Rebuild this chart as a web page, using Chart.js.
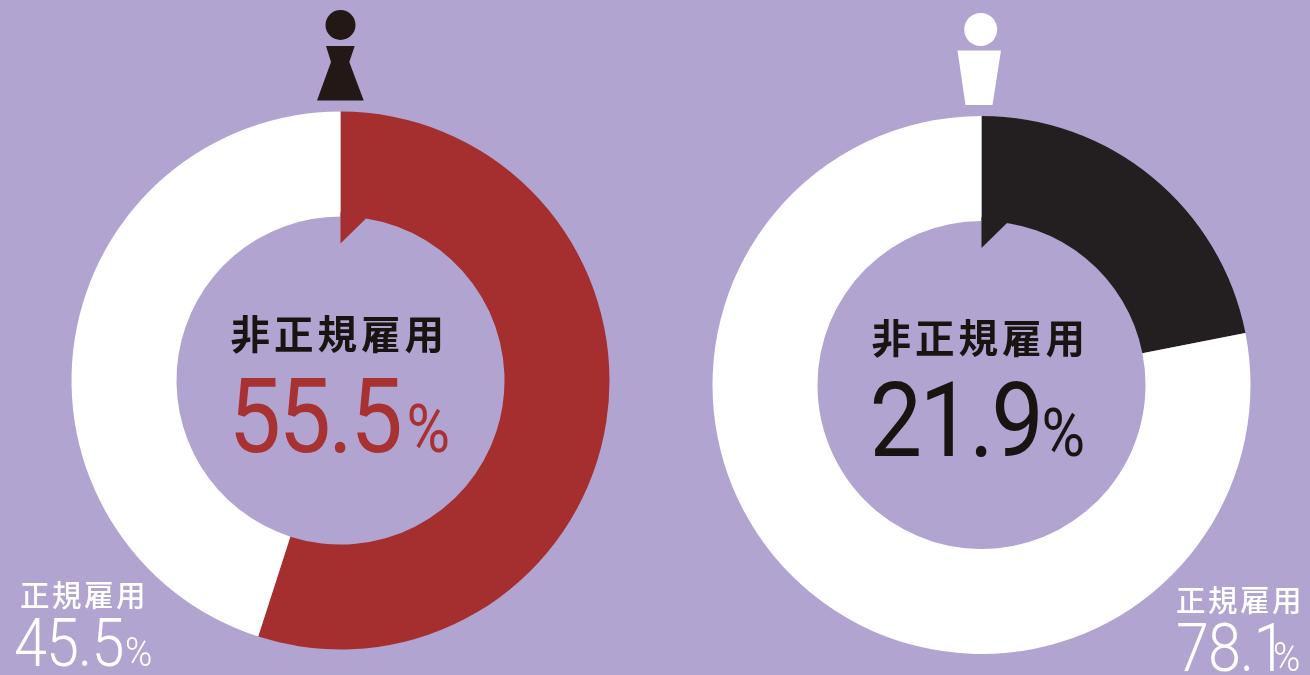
<!DOCTYPE html>
<html><head><meta charset="utf-8">
<script src="https://cdn.jsdelivr.net/npm/chart.js@4"></script>
<style>
html,body{margin:0;padding:0;background:#b1a4d0;width:1310px;height:675px;overflow:hidden}
canvas{position:absolute;top:0}
#c1{left:0}#c2{left:629px}
</style></head><body>
<canvas id="c1" width="681" height="675"></canvas>
<canvas id="c2" width="681" height="675"></canvas>
<script>
const femaleValues = [55.5, 45.5];
const maleValues = [21.9, 78.1];
const categories = ['非正規雇用', '正規雇用'];
const femaleColors = ['#a52f2f', '#ffffff'];
const maleColors = ['#231f20', '#ffffff'];

const KANJI = '"Noto Sans CJK JP"';
const NUM = 'Roboto';

function put(ctx, txt, x, y, font, color, sp, sx) {
  ctx.save();
  ctx.translate(x, y); ctx.scale(sx || 1, 1);
  ctx.font = font; ctx.fillStyle = color; ctx.textAlign = 'left';
  ctx.textBaseline = 'alphabetic'; ctx.letterSpacing = sp || '0px';
  ctx.fillText(txt, 0, 0);
  ctx.restore();
}
function poly(ctx, pts, color) {
  ctx.fillStyle = color; ctx.beginPath();
  pts.forEach((p, i) => i ? ctx.lineTo(p[0], p[1]) : ctx.moveTo(p[0], p[1]));
  ctx.closePath(); ctx.fill();
}
function decor(cfg) {
  return {
    id: 'decor',
    afterDatasetsDraw(chart) {
      const ctx = chart.ctx, arc = chart.getDatasetMeta(0).data[0];
      const cx = arc.x, cy = arc.y, ri = arc.innerRadius;
      ctx.save();
      poly(ctx, [[cx, cy - ri - 4], [cx, cy - ri + 27], [cx + 25.5, cy - ri + 2], [cx + 25.5, cy - ri - 4]], cfg.colors[0]);
      ctx.fillStyle = cfg.iconColor; ctx.beginPath();
      ctx.arc(cx + cfg.head[0], cy + cfg.head[1], cfg.head[2], 0, Math.PI * 2); ctx.fill();
      poly(ctx, cfg.body.map(p => [cx + p[0], cy + p[1]]), cfg.iconColor);
      put(ctx, categories[0], cx - 110, cy - 32, '700 39.5px ' + KANJI, '#1a1311', '4px');
      put(ctx, String(cfg.values[0]), cx - 112, cy + 71, '400 104px ' + NUM, cfg.numColor, '-3px', 0.9);
      put(ctx, '%', cx + cfg.pctX, cy + 71, '400 66px ' + NUM, cfg.numColor, '0px', 0.9);
      put(ctx, categories[1], cfg.lx, cfg.ly, '500 29.5px ' + KANJI, '#ffffff', '2.5px');
      put(ctx, String(cfg.values[1]), cfg.lx2, cfg.ly + 60, '300 66px ' + NUM, '#ffffff', '-1px', 0.9);
      put(ctx, '%', cfg.px2, cfg.ly + 60, '300 41px ' + NUM, '#ffffff', '0px', 0.9);
      ctx.restore();
    }
  };
}
function make(id, values, colors, pad, extra) {
  new Chart(document.getElementById(id), {
    type: 'doughnut',
    data: { labels: categories, datasets: [{ data: values, backgroundColor: colors, borderWidth: 0 }] },
    options: {
      responsive: false, animation: false, radius: 269, cutout: '60.97%',
      layout: { padding: pad },
      plugins: { legend: { display: false }, tooltip: { enabled: false } }
    },
    plugins: [decor(Object.assign({ values, colors }, extra))]
  });
}
make('c1', femaleValues, femaleColors, { top: 86 }, {
  iconColor: '#231815', numColor: '#a83232',
  head: [0, -355.5, 15],
  body: [[-14.5, -334.5], [14.2, -334.5], [8.8, -318.5], [23.2, -280], [-23.5, -280], [-9.5, -318.5]],
  pctX: 66,
  lx: 20, ly: 606, lx2: 14, px2: 125
});
make('c2', maleValues, maleColors, { top: 95, left: 24 }, {
  iconColor: '#ffffff', numColor: '#1a1311',
  head: [-0.8, -355.5, 16.5],
  body: [[-24, -334.5], [19.5, -334.5], [11, -280], [-16, -280]],
  pctX: 60,
  lx: 547, ly: 611, lx2: 547, px2: 644
});
</script>
</body></html>
